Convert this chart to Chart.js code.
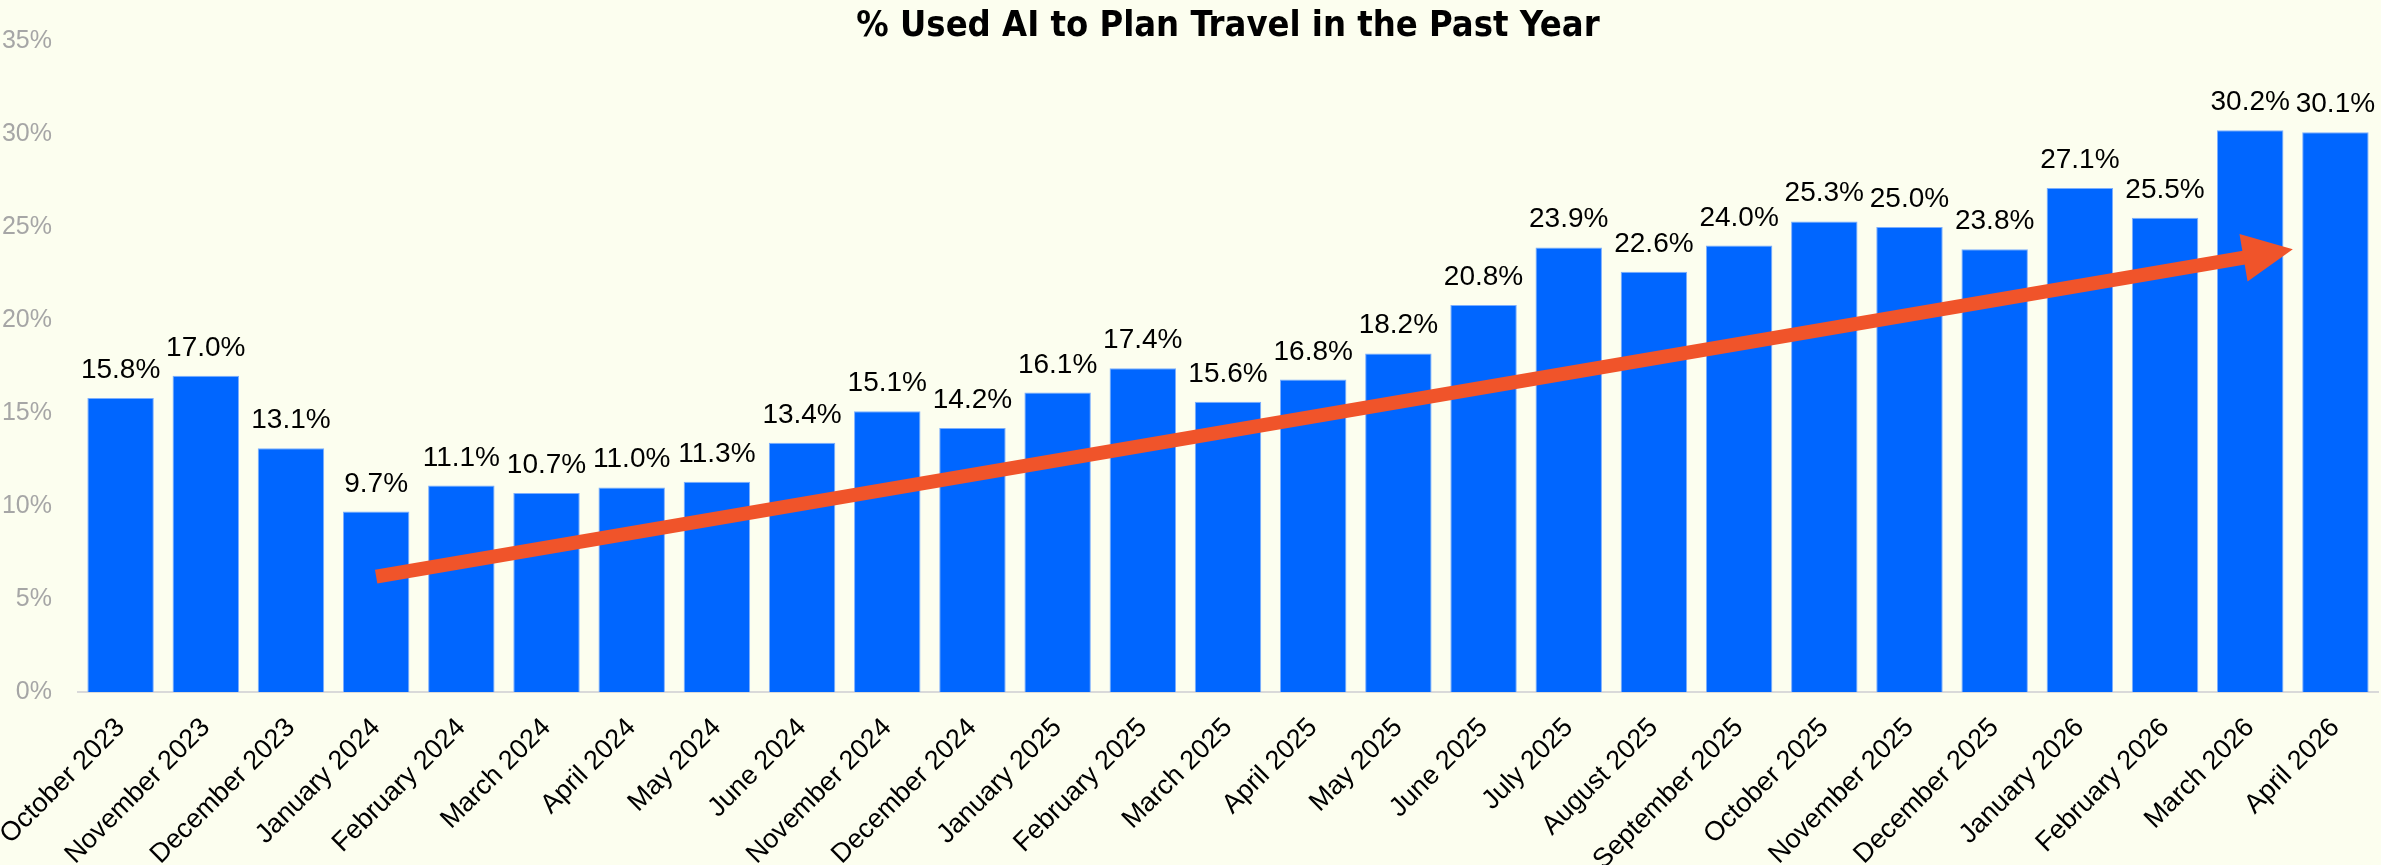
<!DOCTYPE html>
<html>
<head>
<meta charset="utf-8">
<script src="https://cdn.jsdelivr.net/npm/chart.js@4.4.1/dist/chart.umd.min.js"></script>
<style>
  html, body { margin: 0; padding: 0; background: #fcfeef; overflow: hidden; }
  #wrap { width: 2381px; height: 865px; position: relative; }
</style>
</head>
<body>
<div id="wrap"><canvas id="graphique"></canvas></div>
<script>
const months = ["October 2023", "November 2023", "December 2023", "January 2024", "February 2024",
    "March 2024", "April 2024", "May 2024", "June 2024", "November 2024", "December 2024",
    "January 2025", "February 2025", "March 2025", "April 2025", "May 2025", "June 2025",
    "July 2025", "August 2025", "September 2025", "October 2025", "November 2025",
    "December 2025", "January 2026", "February 2026", "March 2026", "April 2026"];
const pctUsedAI = [15.8, 17.0, 13.1, 9.7, 11.1, 10.7, 11.0, 11.3, 13.4, 15.1, 14.2,
    16.1, 17.4, 15.6, 16.8, 18.2, 20.8, 23.9, 22.6, 24.0, 25.3, 25.0,
    23.8, 27.1, 25.5, 30.2, 30.1];
const yTicks = [0, 5, 10, 15, 20, 25, 30, 35];
// trend arrow, in data units: [category index, percent]
const arrowStart = [3, 6.2];
const arrowEnd = [25.5, 23.8];

const labelsPlugin = {
    id: "barLabels",
    afterDatasetsDraw(chart) {
        const ctx = chart.ctx;
        const meta = chart.getDatasetMeta(0);
        ctx.save();
        ctx.font = "28px 'Liberation Sans', Arial, sans-serif";
        ctx.fillStyle = "#000";
        ctx.textAlign = "center";
        ctx.textBaseline = "alphabetic";
        meta.data.forEach((bar, i) => {
            ctx.fillText(pctUsedAI[i].toFixed(1) + "%", bar.x, bar.y - 20);
        });
        ctx.restore();
    }
};

const arrowPlugin = {
    id: "trendArrow",
    afterDatasetsDraw(chart) {
        const xs = chart.scales.x, ys = chart.scales.y;
        const x1 = xs.getPixelForValue(arrowStart[0]), y1 = ys.getPixelForValue(arrowStart[1]);
        const x2 = xs.getPixelForValue(arrowEnd[0]), y2 = ys.getPixelForValue(arrowEnd[1]);
        const len = Math.hypot(x2 - x1, y2 - y1);
        const ux = (x2 - x1) / len, uy = (y2 - y1) / len;
        const headLen = 50, headHalf = 24;
        const bx = x2 - ux * headLen, by = y2 - uy * headLen;
        const ctx = chart.ctx;
        ctx.save();
        ctx.strokeStyle = "#f0542a";
        ctx.fillStyle = "#f0542a";
        ctx.lineWidth = 14;
        ctx.lineCap = "butt";
        ctx.beginPath();
        ctx.moveTo(x1, y1);
        ctx.lineTo(bx + ux * 2, by + uy * 2);
        ctx.stroke();
        ctx.beginPath();
        ctx.moveTo(x2, y2);
        ctx.lineTo(bx - uy * headHalf, by + ux * headHalf);
        ctx.lineTo(bx + uy * headHalf, by - ux * headHalf);
        ctx.closePath();
        ctx.fill();
        ctx.restore();
    }
};

const data = {
    labels: months,
    datasets: [{
        label: "% Used AI to Plan Travel in the Past Year",
        data: pctUsedAI,
        backgroundColor: "#0066ff",
        borderColor: "rgba(110,165,255,0.9)",
        borderWidth: 1,
        barPercentage: 0.78,
        categoryPercentage: 1,
    }]
};

const config = {
    type: "bar",
    data: data,
    options: {
        responsive: true,
        maintainAspectRatio: false,
        devicePixelRatio: 1,
        animation: false,
        layout: { padding: { left: 0, right: 3, top: 0, bottom: 0 } },
        plugins: {
            legend: { display: false },
            tooltip: { enabled: false },
            title: {
                display: true,
                fullSize: false,
                text: "% Used AI to Plan Travel in the Past Year",
                color: "#000",
                font: { family: "'Liberation Sans Narrow', 'DejaVu Sans Condensed', sans-serif", size: 36, weight: "bold" },
                padding: { top: 4, bottom: -7 },
            },
        },
        scales: {
            x: {
                afterFit: (scale) => {
                    scale.height = 173;
                    scale.paddingLeft = 0;
                    scale.paddingRight = 0;
                },
                grid: { display: false },
                border: { display: true, color: "#d9d9d9", width: 2 },
                ticks: {
                    color: "#000",
                    padding: 12,
                    font: { family: "'Liberation Sans', Arial, sans-serif", size: 27 },
                    maxRotation: 45,
                    minRotation: 45,
                    autoSkip: false,
                },
            },
            y: {
                min: 0,
                max: 35,
                afterBuildTicks: (scale) => { scale.ticks = yTicks.map(v => ({ value: v })); },
                afterFit: (scale) => { scale.width = 78; },
                grid: { display: false, drawTicks: false },
                border: { display: false },
                ticks: {
                    color: "#a6a6a6",
                    padding: 26,
                    font: { family: "'Liberation Sans', Arial, sans-serif", size: 25 },
                    callback: (v) => v + "%",
                },
            },
        },
    },
    plugins: [labelsPlugin, arrowPlugin],
};

const graph = new Chart(document.querySelector("#graphique"), config);
</script>
</body>
</html>
